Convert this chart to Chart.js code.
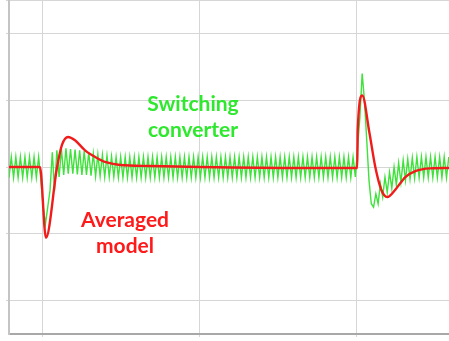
<!DOCTYPE html>
<html>
<head>
<meta charset="utf-8">
<title>Switching converter vs averaged model</title>
<script src="https://cdn.jsdelivr.net/npm/chart.js@4.4.0/dist/chart.umd.min.js"></script>
<style>
  body { margin: 0; background: #fff; }
  #wrap { position: relative; width: 449px; height: 341px; }
  .note { position: absolute; font-family: Lato, sans-serif; font-weight: bold; font-size: 21px; line-height: 26px; text-align: center; width: 160px; }
  #noteGreen { left: 113px; top: 90px; color: #2ee82e; }
  #noteRed { left: 45px; top: 206px; color: #ff1a1a; }
</style>
</head>
<body>
<div id="wrap">
  <canvas id="chart"></canvas>
  <div class="note" id="noteGreen">Switching<br>converter</div>
  <div class="note" id="noteRed">Averaged<br>model</div>
</div>
<script>
// time axis (ms), one grid line per ms
var tStart = -0.21;
var tEnd = 2.59;
var dt = 0.0145; // green sample step = half a switching period
var gridTimes = [0, 1, 2];
var gridLevels = [-2, -1, 0, 1, 2];

// switching converter output
var greenV = [
  -0.16, 0.15, -0.16, 0.15, -0.16, 0.15, -0.16, 0.15, -0.16, 0.15,
  -0.16, 0.15, -0.16, 0.15, -0.2, -0.6, -0.85, -0.6, -0.35, 0.22,
  -0.35, 0.25, -0.15, 0.27, -0.12, 0.28, -0.1, 0.27, -0.1, 0.26,
  -0.11, 0.25, -0.12, 0.24, -0.12, 0.22, -0.13, 0.2, -0.14, 0.19,
  -0.14, 0.18, -0.15, 0.17, -0.15, 0.16, -0.15, 0.15, -0.16, 0.15,
  -0.16, 0.15, -0.16, 0.15, -0.16, 0.15, -0.16, 0.15, -0.16, 0.15,
  -0.16, 0.15, -0.16, 0.15, -0.16, 0.15, -0.16, 0.15, -0.16, 0.15,
  -0.16, 0.15, -0.16, 0.15, -0.16, 0.15, -0.16, 0.15, -0.16, 0.15,
  -0.16, 0.15, -0.16, 0.15, -0.16, 0.15, -0.16, 0.15, -0.16, 0.15,
  -0.16, 0.15, -0.16, 0.15, -0.16, 0.15, -0.16, 0.15, -0.16, 0.15,
  -0.16, 0.15, -0.16, 0.15, -0.16, 0.15, -0.16, 0.15, -0.16, 0.15,
  -0.16, 0.15, -0.16, 0.15, -0.16, 0.15, -0.16, 0.15, -0.16, 0.15,
  -0.16, 0.15, -0.16, 0.15, -0.16, 0.15, -0.16, 0.15, -0.16, 0.15,
  -0.16, 0.15, -0.16, 0.15, -0.16, 0.15, -0.16, 0.15, -0.16, 0.15,
  -0.16, 0.15, -0.16, 0.15, -0.16, 0.15, -0.16, 0.15, -0.16, 0.15,
  -0.16, 0.15, -0.15, 0.3, 0.75, 1.4, 1.0, 0.4, -0.2, -0.55,
  -0.6, -0.4, -0.55, -0.25, -0.45, -0.15, -0.38, -0.08, -0.32, 0.0,
  -0.27, 0.06, -0.23, 0.1, -0.2, 0.12, -0.18, 0.14, -0.17, 0.15,
  -0.16, 0.15, -0.16, 0.15, -0.16, 0.15, -0.16, 0.15, -0.16, 0.15,
  -0.16, 0.15, -0.16, 0.15
];

// averaged model
var redT = [-0.21, -0.013, 0.025, 0.096, 0.127, 0.166, 0.21, 0.274, 0.338, 0.401, 0.497, 0.688, 1.006,
            1.643, 2.006, 2.009, 2.038, 2.083, 2.121, 2.159, 2.197, 2.248, 2.312, 2.376, 2.471, 2.59];
var redV = [0, 0, -1.06, 0, 0.33, 0.45, 0.4, 0.25, 0.15, 0.075, 0.03, 0.015, 0,
            -0.015, -0.015, 0.55, 1.07, 0.52, 0, -0.34, -0.45, -0.34, -0.15, -0.06, -0.02, -0.015];

var greenPts = greenV.map(function (v, i) { return {x: tStart + i * dt, y: v}; });
var redPts = redV.map(function (v, i) { return {x: redT[i], y: v}; });

new Chart(document.getElementById('chart'), {
  type: 'line',
  data: {
    datasets: [{
      label: 'Averaged model',
      data: redPts,
      borderColor: '#f01c1c',
      borderWidth: 2.4,
      cubicInterpolationMode: 'monotone',
      pointRadius: 0,
      fill: false
    }, {
      label: 'Switching converter',
      data: greenPts,
      borderColor: '#3ee23a',
      borderWidth: 1.4,
      tension: 0,
      pointRadius: 0,
      fill: false
    }]
  },
  options: {
    responsive: true,
    maintainAspectRatio: false,
    animation: false,
    layout: { padding: {left: 6, right: 0, top: 0, bottom: 4} },
    plugins: { legend: {display: false}, tooltip: {enabled: false} },
    scales: {
      x: {
        type: 'linear',
        min: tStart,
        max: tEnd,
        afterBuildTicks: function (axis) {
          axis.ticks = gridTimes.map(function (t) { return {value: t}; });
        },
        ticks: {display: false},
        grid: {color: '#d6d6d6', lineWidth: 1, tickLength: 3},
        border: {color: '#a8a8a8', width: 2}
      },
      y: {
        min: -2.5,
        max: 2.5,
        afterBuildTicks: function (axis) {
          axis.ticks = gridLevels.concat([2.5]).map(function (v) { return {value: v}; });
        },
        ticks: {display: false},
        grid: {color: '#d6d6d6', lineWidth: 1, tickLength: 3},
        border: {color: '#c4c4c4', width: 2}
      }
    }
  }
});
</script>
</body>
</html>
